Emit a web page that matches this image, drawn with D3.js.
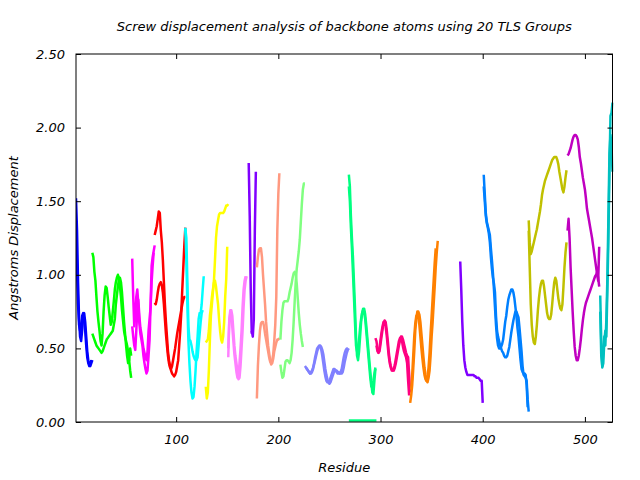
<!DOCTYPE html>
<html>
<head>
<meta charset="utf-8">
<script src="https://cdn.jsdelivr.net/npm/d3@7"></script>
<style>
  html, body { margin: 0; padding: 0; background: #fff; }
  svg text { font-family: "DejaVu Sans", sans-serif; font-style: italic; fill: #000; }
</style>
</head>
<body>
<svg id="chart" width="640" height="480"></svg>
<script>
// ---------- DATA ----------
const title = "Screw displacement analysis of backbone atoms using 20 TLS Groups";
const xLabel = "Residue";
const yLabel = "Angstroms Displacement";
const xTicks = [100, 200, 300, 400, 500];
const yTicks = [0.0, 0.5, 1.0, 1.5, 2.0, 2.5];
const xDomain = [2, 527];
const yDomain = [0, 2.5];

// TLS group colours (group index 0..18)
const groupColors = ["#0000ff","#00ff00","#ff00ff","#ff0000","#00ffff","#ffff00","#ff80ff","#8000ff",
  "#ff9980","#80ff80","#8080ff","#00ff80","#ff0080","#ff8000","#8000ff","#0080ff","#c0c000","#c000c0","#00c0c0"];

// Each array: displacement per residue, starting at the residue given in the series table below
const g01a = [1.52,1.30,0.95,0.70,0.58,0.55,0.62,0.72,0.74,0.68,0.58,0.48,0.42,0.39,0.38,0.40,0.42];
const g01b = [1.28,1.05,0.80,0.66,0.62,0.64,0.72,0.74,0.70,0.62,0.52,0.44,0.40,0.38,0.40,0.42];
const g02a = [1.15,1.12,1.02,0.96,0.85,0.75,0.68,0.62,0.55,0.52,0.60,0.75,0.86,0.92,0.91,0.85,0.78,0.72,0.66,0.68,0.75,0.82,0.90,0.95,0.98,1.00,0.98,0.92,0.85,0.76,0.69,0.62,0.58,0.55,0.52,0.48,0.42,0.35,0.30];
const g02b = [0.60,0.58,0.56,0.54,0.52,0.51,0.50,0.49,0.48,0.47,0.48,0.50,0.52,0.54,0.56,0.57,0.58,0.59,0.60,0.61,0.62,0.66,0.70,0.80,0.86,0.92,0.97,0.98,0.95,0.88,0.78,0.68,0.60,0.52,0.45,0.40,0.42,0.50,0.45];
const g03a = [1.11,0.85,0.65,0.72,0.85,0.90,0.80,0.67,0.60,0.56,0.52,0.45,0.40,0.36,0.33,0.35,0.45,0.56,0.80,1.06,1.12,1.16,1.20];
const g03b = [0.65,0.58,0.52,0.49,0.62,0.76,0.83,0.72,0.64,0.60,0.55,0.50,0.47,0.44,0.42,0.48,0.62,0.70,0.78,0.95,1.06,1.15];
const g04a = [1.27,1.30,1.33,1.38,1.43,1.42,1.30,1.22,1.10,0.95,0.80,0.68,0.58,0.48,0.42,0.38,0.35,0.33,0.32,0.31,0.32,0.34,0.38,0.42,0.52,0.62,0.74,0.90,1.05,1.20,1.32];
const g04b = [0.81,0.80,0.83,0.88,0.92,0.94,0.95,0.93,0.88,0.80,0.70,0.60,0.52,0.45,0.40,0.37,0.36,0.38,0.42,0.46,0.50,0.55,0.60,0.64,0.68,0.72,0.76,0.80,0.83,0.85,0.85];
const g05a = [1.32,1.10,0.80,0.55,0.40,0.28,0.20,0.16,0.17,0.24,0.35,0.48,0.58,0.70,0.74,0.74,0.80,0.90,0.99];
const g05b = [1.31,1.25,0.95,0.65,0.56,0.55,0.52,0.48,0.45,0.43,0.42,0.42,0.44,0.52,0.60,0.68,0.74,0.76];
const g06a = [0.24,0.16,0.20,0.35,0.55,0.72,0.80,0.88,0.96,1.10,1.25,1.33,1.37,1.41,1.42,1.42,1.42,1.42,1.43,1.45,1.47,1.47,1.48];
const g06b = [0.54,0.55,0.56,0.62,0.72,0.78,0.85,0.90,0.95,0.96,0.92,0.86,0.80,0.70,0.62,0.56,0.54,0.58,0.68,0.85,0.97,1.19];
const g07a = [0.44,0.70,0.76,0.76,0.72,0.62,0.52,0.45,0.40,0.34,0.29,0.30,0.38,0.50,0.62,0.78,0.90,0.96,0.99];
const g07b = [0.50,0.68,0.74,0.72,0.64,0.55,0.46,0.40,0.34,0.30,0.31,0.40,0.50,0.62,0.78,0.90,0.96,0.99];
const g08a = [1.76,1.40,0.90,0.60];
const g08b = [0.62,0.58,0.70,1.30,1.70];
const g09a = [0.16,0.38,0.52,0.62,0.67,0.68,0.68,0.65,0.60,0.56,0.52,0.48,0.44,0.41,0.40,0.42,0.46,0.55,0.66,0.85,1.30,1.55,1.69];
const g09b = [1.05,1.12,1.17,1.18,1.18,1.12,1.00,0.90,0.80,0.68,0.60,0.52,0.47,0.42,0.39,0.40,0.43,0.48,0.51,0.54,0.56,0.56,0.57];
const g10a = [0.39,0.34,0.30,0.31,0.36,0.41,0.42,0.42,0.41,0.40,0.42,0.47,0.56,0.68,0.82,0.95,1.04,1.10,1.16,1.24,1.36,1.48,1.58,1.62,1.62];
const g10b = [0.56,0.68,0.76,0.81,0.82,0.82,0.82,0.82,0.84,0.88,0.91,0.94,0.98,1.01,1.02,1.01,0.94,0.84,0.74,0.66,0.60,0.55,0.51];
const g11a = [0.38,0.37,0.36,0.35,0.34,0.33,0.33,0.34,0.36,0.39,0.42,0.45,0.48,0.50,0.51,0.52,0.51,0.49,0.46,0.41,0.36,0.32,0.29,0.27,0.26,0.27,0.29,0.31,0.33,0.35,0.35,0.35,0.34,0.34,0.33,0.33,0.33,0.34,0.37,0.41,0.44,0.47,0.49,0.50];
const g11b = [0.37,0.36,0.35,0.34,0.33,0.34,0.35,0.37,0.40,0.44,0.47,0.50,0.51,0.52,0.51,0.49,0.45,0.40,0.35,0.31,0.28,0.27,0.27,0.28,0.30,0.32,0.34,0.36,0.36,0.35,0.34,0.33,0.33,0.33,0.34,0.36,0.40,0.44,0.47,0.49,0.50,0.50];
const g12a = [1.68,1.60,1.40,1.25,1.12,0.95,0.78,0.58,0.45,0.42,0.48,0.58,0.68,0.74,0.77,0.77,0.73,0.66,0.58,0.50,0.42,0.34,0.27,0.20,0.19,0.28,0.36];
const g12b = [1.60,1.50,1.32,1.18,1.02,0.85,0.68,0.52,0.48,0.50,0.56,0.64,0.70,0.74,0.76,0.74,0.70,0.62,0.54,0.46,0.38,0.30,0.24,0.24,0.28,0.33,0.37];
const g12c = [0.01,0.01,0.01,0.01,0.01,0.01,0.01,0.01,0.01,0.01,0.01,0.01,0.01,0.01,0.01,0.01,0.01,0.01,0.01,0.01,0.01,0.01,0.01,0.01,0.01,0.01,0.01,0.01];
const g13a = [0.57,0.55,0.50,0.47,0.48,0.53,0.58,0.63,0.67,0.69,0.68,0.63,0.56,0.48,0.42,0.38,0.36,0.35,0.35,0.37,0.40,0.44,0.48,0.52,0.55,0.58,0.58,0.56,0.53,0.50,0.47,0.45,0.44,0.32,0.20];
const g13b = [0.52,0.48,0.47,0.50,0.56,0.61,0.65,0.68,0.68,0.65,0.59,0.52,0.45,0.40,0.37,0.35,0.35,0.36,0.39,0.43,0.47,0.51,0.55,0.57,0.57,0.55,0.51,0.48,0.46,0.44,0.40,0.28,0.18];
const g14a = [0.13,0.18,0.25,0.36,0.48,0.62,0.70,0.75,0.75,0.73,0.68,0.60,0.52,0.44,0.37,0.32,0.28,0.27,0.30,0.35,0.45,0.58,0.68,0.80,0.92,1.05,1.15,1.23];
const g14b = [0.22,0.32,0.45,0.58,0.67,0.72,0.73,0.71,0.66,0.58,0.50,0.43,0.37,0.32,0.29,0.28,0.31,0.37,0.47,0.60,0.72,0.84,0.96,1.08,1.18];
const g15a = [1.09,0.90,0.68,0.52,0.42,0.37,0.34,0.32,0.32,0.32,0.32,0.32,0.32,0.32,0.31,0.31,0.30,0.30,0.30,0.29,0.28,0.28,0.13];
const g16a = [1.68,1.55,1.42,1.36,1.33,1.30,1.27,1.18,1.10,1.01,0.90,0.78,0.66,0.57,0.52,0.50,0.50,0.51,0.53,0.56,0.62,0.68,0.72,0.78,0.83,0.86,0.88,0.90,0.90,0.88,0.84,0.78,0.72,0.64,0.58,0.50,0.42,0.36,0.34,0.33,0.33,0.32,0.25,0.10];
const g16b = [1.60,1.50,1.40,1.35,1.32,1.28,1.22,1.12,1.04,0.98,0.94,0.88,0.72,0.62,0.58,0.55,0.52,0.50,0.48,0.47,0.45,0.44,0.44,0.45,0.48,0.51,0.56,0.61,0.65,0.69,0.72,0.75,0.75,0.73,0.71,0.64,0.56,0.48,0.38,0.32,0.31,0.30,0.28,0.15,0.07];
const g17a = [1.37,1.22,1.14,1.16,1.19,1.22,1.25,1.28,1.31,1.35,1.39,1.43,1.48,1.54,1.58,1.61,1.64,1.66,1.68,1.70,1.72,1.74,1.76,1.78,1.79,1.80,1.80,1.80,1.78,1.75,1.70,1.66,1.62,1.58,1.56,1.60,1.66,1.71];
const g17b = [1.30,1.05,0.80,0.66,0.58,0.54,0.53,0.58,0.66,0.76,0.84,0.90,0.94,0.96,0.96,0.92,0.86,0.80,0.74,0.71,0.70,0.70,0.73,0.80,0.88,0.95,0.98,0.96,0.90,0.84,0.80,0.77,0.76,0.80,0.92,1.05,1.15,1.22];
const g18a = [1.81,1.82,1.84,1.86,1.89,1.92,1.94,1.95,1.95,1.94,1.92,1.87,1.80,1.76,1.71,1.66,1.62,1.58,1.52,1.45,1.41,1.37,1.33,1.29,1.25,1.20,1.15,1.10,1.05,1.00,0.96,1.19];
const g18b = [1.30,1.38,1.25,1.05,0.90,0.75,0.62,0.51,0.45,0.42,0.42,0.45,0.50,0.56,0.63,0.69,0.74,0.78,0.81,0.83,0.85,0.87,0.89,0.91,0.93,0.95,0.97,0.99,1.00,1.02,0.98,0.92];
const g19a = [0.86,0.55,0.37,0.40,0.55,0.62,0.58,0.90,1.25,1.70,2.08,2.10,2.17];
const g19b = [0.75,0.45,0.38,0.48,0.58,0.52,0.70,0.98,1.40,1.82,1.95,1.88,1.70];

// series table: group index, first residue, values
const series = [
  {g:0, start:2, v:g01a}, {g:0, start:2, v:g01b},
  {g:1, start:18, v:g02a}, {g:1, start:18, v:g02b},
  {g:2, start:57, v:g03a}, {g:2, start:57, v:g03b},
  {g:3, start:79, v:g04a}, {g:3, start:79, v:g04b},
  {g:4, start:109, v:g05a}, {g:4, start:109, v:g05b},
  {g:5, start:129, v:g06a}, {g:5, start:129, v:g06b},
  {g:6, start:151, v:g07a}, {g:6, start:151, v:g07b},
  {g:7, start:171, v:g08a}, {g:7, start:174, v:g08b},
  {g:8, start:179, v:g09a}, {g:8, start:179, v:g09b},
  {g:9, start:202, v:g10a}, {g:9, start:202, v:g10b},
  {g:10, start:226, v:g11a}, {g:10, start:227, v:g11b},
  {g:11, start:269, v:g12a}, {g:11, start:269, v:g12b}, {g:11, start:269, v:g12c},
  {g:12, start:295, v:g13a}, {g:12, start:296, v:g13b},
  {g:13, start:329, v:g14a}, {g:13, start:330, v:g14b},
  {g:14, start:378, v:g15a},
  {g:15, start:401, v:g16a}, {g:15, start:401, v:g16b},
  {g:16, start:445, v:g17a}, {g:16, start:445, v:g17b},
  {g:17, start:483, v:g18a}, {g:17, start:483, v:g18b},
  {g:18, start:515, v:g19a}, {g:18, start:515, v:g19b}
];

// ---------- DRAWING ----------
const svg = d3.select("#chart");
const pLeft = 76, pRight = 612.5, pTop = 54, pBottom = 422;

const x = d3.scaleLinear().domain(xDomain).range([pLeft, pRight]);
const y = d3.scaleLinear().domain(yDomain).range([pBottom, pTop]);

svg.append("defs").append("clipPath").attr("id", "plotclip")
  .append("rect").attr("x", pLeft).attr("y", pTop - 2).attr("width", pRight - pLeft + 1).attr("height", pBottom - pTop + 3);

// lines
const line = d3.line().x(d => x(d[0])).y(d => y(d[1]));
const plot = svg.append("g").attr("clip-path", "url(#plotclip)");
series.forEach(s => {
  const pts = s.v.map((val, i) => [s.start + i, val]);
  plot.append("path")
    .attr("d", line(pts))
    .attr("fill", "none")
    .attr("stroke", groupColors[s.g])
    .attr("stroke-width", 2.5)
    .attr("stroke-linejoin", "round");
});

// axes (ticks inward on all four sides)
const tickLen = 5;
const fmt = d3.format(".2f");
const axB = svg.append("g").attr("transform", `translate(0,${pBottom})`)
  .call(d3.axisBottom(x).tickValues(xTicks).tickSize(-tickLen).tickPadding(13).tickFormat(d3.format("d")));
const axT = svg.append("g").attr("transform", `translate(0,${pTop})`)
  .call(d3.axisTop(x).tickValues(xTicks).tickSize(-tickLen).tickFormat(""));
const axL = svg.append("g").attr("transform", `translate(${pLeft},0)`)
  .call(d3.axisLeft(y).tickValues(yTicks).tickSize(-tickLen).tickPadding(11).tickFormat(fmt));
const axR = svg.append("g").attr("transform", `translate(${pRight},0)`)
  .call(d3.axisRight(y).tickValues(yTicks).tickSize(-tickLen).tickFormat(""));
[axB, axT, axL, axR].forEach(a => {
  a.select(".domain").remove();
  a.selectAll(".tick line").attr("stroke", "#000").attr("stroke-width", 1);
  a.selectAll(".tick text").style("font-size", "13px").attr("fill", "#000");
});

// frame
svg.append("rect").attr("x", pLeft).attr("y", pTop)
  .attr("width", pRight - pLeft).attr("height", pBottom - pTop)
  .attr("fill", "none").attr("stroke", "#000").attr("stroke-width", 1);

// labels
svg.append("text").attr("x", (pLeft + pRight) / 2).attr("y", 31)
  .attr("text-anchor", "middle").style("font-size", "13px").text(title);
svg.append("text").attr("x", (pLeft + pRight) / 2).attr("y", 472)
  .attr("text-anchor", "middle").style("font-size", "13px").text(xLabel);
svg.append("text").attr("transform", `translate(18,${(pTop + pBottom) / 2}) rotate(-90)`)
  .attr("text-anchor", "middle").style("font-size", "13px").text(yLabel);
</script>
</body>
</html>
